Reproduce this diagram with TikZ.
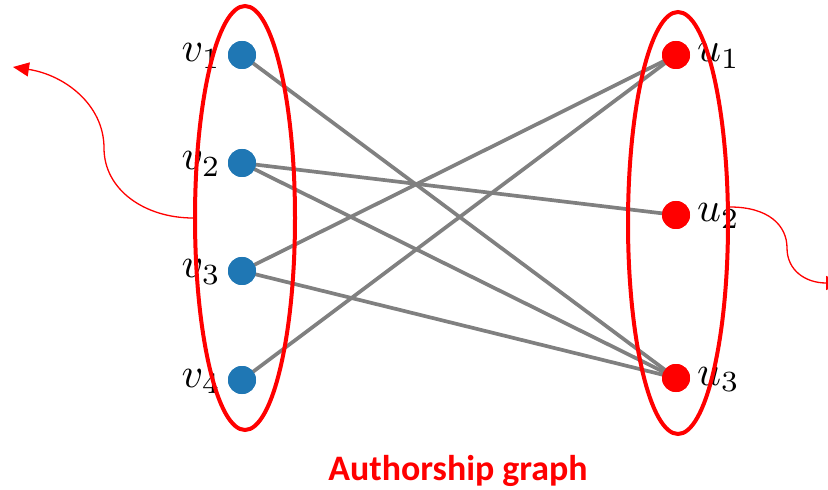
\documentclass[tikz,border=0pt]{standalone}
\usepackage{graphicx}
\usepackage{fontspec}
\newfontfamily\titlefont{Carlito}
\usetikzlibrary{arrows.meta,shapes.geometric}
\definecolor{vblue}{HTML}{1F77B4}
\definecolor{edgegray}{HTML}{808080}
\tikzset{
  vnode/.style={circle,fill=vblue,minimum size=28bp,inner sep=0pt},
  unode/.style={circle,fill=red,minimum size=28bp,inner sep=0pt},
  lbl/.style={inner sep=0pt},
  edge/.style={draw=edgegray,line width=3.7bp},
  group/.style={draw=red,line width=4bp,ellipse,inner sep=0pt},
  pointer/.style={draw=red,line width=1.3bp,-{Triangle[length=16bp,width=14bp]}},
  titletext/.style={font=\titlefont\bfseries\fontsize{36}{40}\selectfont},
}
\newcommand{\biglbl}[1]{\scalebox{4.2}{$#1$}}
\begin{document}
\begin{tikzpicture}[x=1bp,y=-1bp]
\useasboundingbox (0,0) rectangle (828,490);
\node[vnode] (v1) at (242,55) {};
\node[vnode] (v2) at (242,163) {};
\node[vnode] (v3) at (242,271) {};
\node[vnode] (v4) at (242,380) {};
\node[unode] (u1) at (676,55) {};
\node[unode] (u2) at (676,215) {};
\node[unode] (u3) at (676,378) {};
\path[edge] (v1.center) -- (u3.center);
\path[edge] (v2.center) -- (u2.center);
\path[edge] (v2.center) -- (u3.center);
\path[edge] (v3.center) -- (u1.center);
\path[edge] (v3.center) -- (u3.center);
\path[edge] (v4.center) -- (u1.center);
% redraw nodes on top
\node[vnode] at (v1) {};
\node[vnode] at (v2) {};
\node[vnode] at (v3) {};
\node[vnode] at (v4) {};
\node[unode] at (u1) {};
\node[unode] at (u2) {};
\node[unode] at (u3) {};
% labels
\node[lbl,anchor=base east] (lv1) at (221,62) {\biglbl{v_1}};
\node[lbl,anchor=base east] (lv2) at (221,170) {\biglbl{v_2}};
\node[lbl,anchor=base east] (lv3) at (221,278) {\biglbl{v_3}};
\node[lbl,anchor=base east] (lv4) at (221,387) {\biglbl{v_4}};
\node[lbl,anchor=base west] (lu1) at (697,62) {\biglbl{u_1}};
\node[lbl,anchor=base west] (lu2) at (697,222) {\biglbl{u_2}};
\node[lbl,anchor=base west] (lu3) at (697,385) {\biglbl{u_3}};
% groups
\node[group,minimum width=100bp,minimum height=424bp] (gv) at (245,218) {};
\node[group,minimum width=100bp,minimum height=422bp] (gu) at (678,223) {};
% pointers
\coordinate (pl) at (13,67);
\coordinate (pr) at (842,283);
\draw[pointer] (gv.west) .. controls (145,218) and (104,190) .. (104,148) .. controls (104,105) and (65,75) .. (pl);
\draw[pointer] (gu.east |- 0,207) .. controls (768,207) and (787,225) .. (787,248) .. controls (787,270) and (805,283) .. (pr);
% title
\node[titletext,text=red,anchor=base] (title) at (458,480) {Authorship graph};
\end{tikzpicture}
\end{document}
